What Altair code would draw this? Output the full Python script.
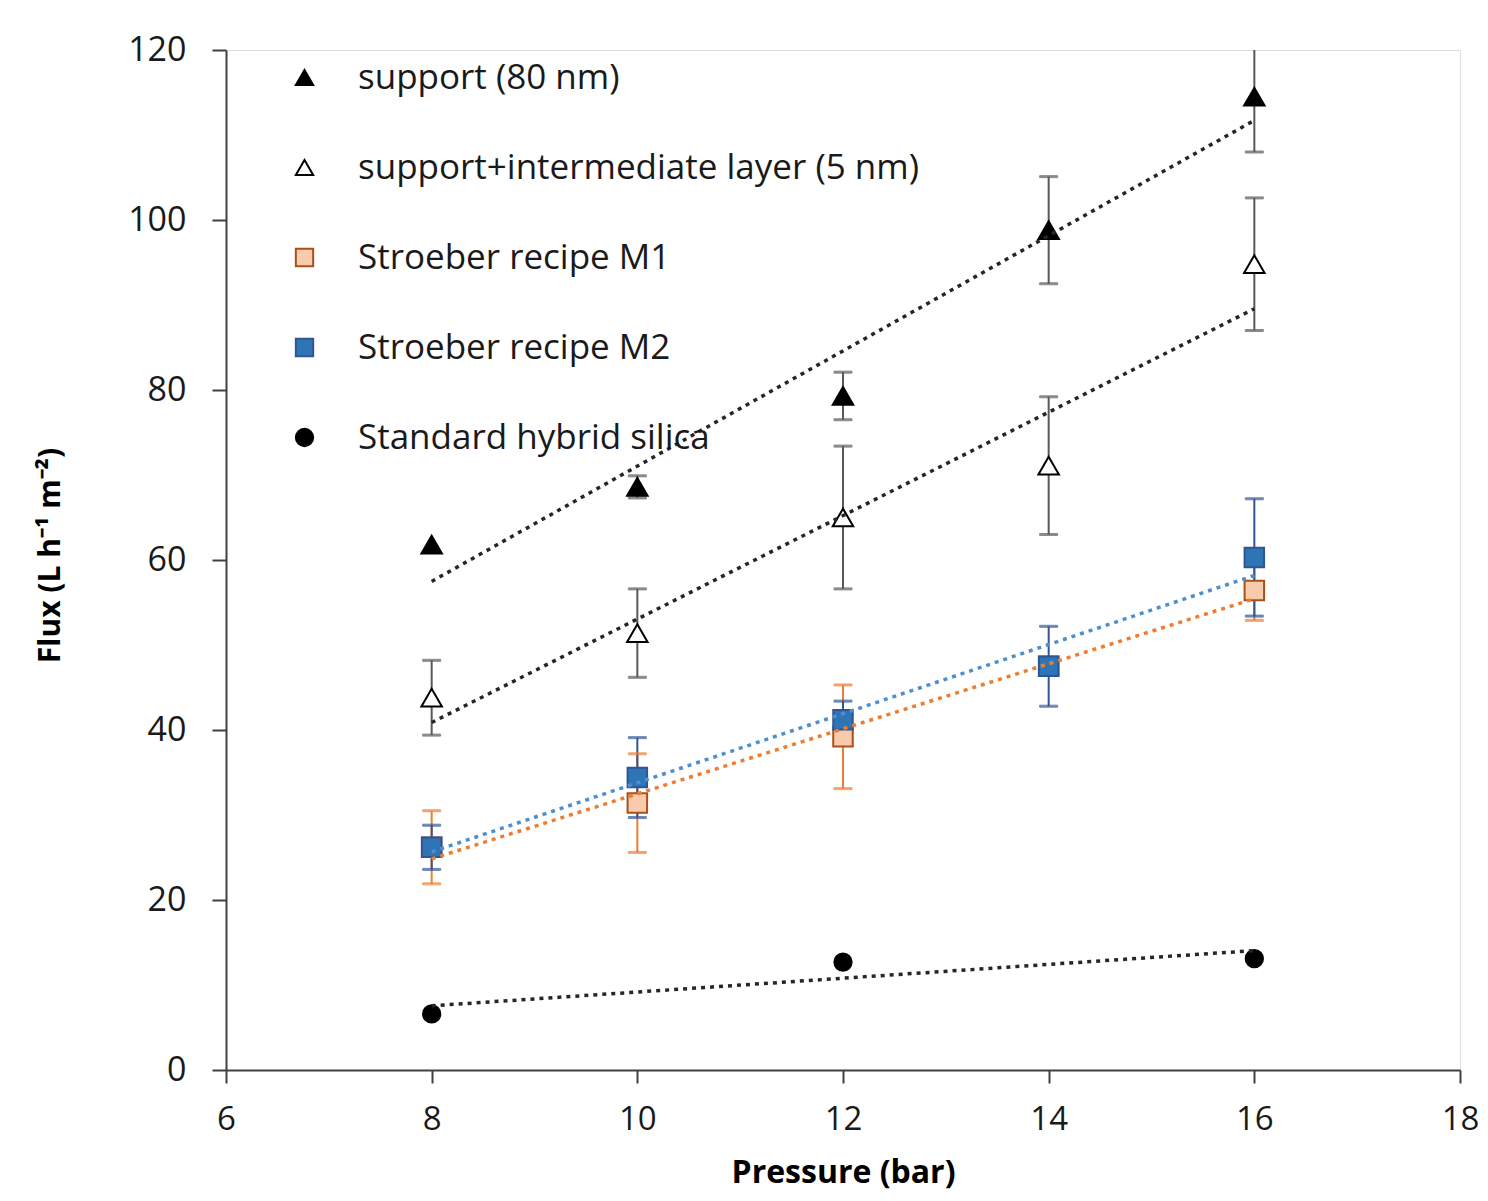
import altair as alt
import pandas as pd

# ---- data ----
series_names = [
    "support (80 nm)",
    "support+intermediate layer (5 nm)",
    "Stroeber recipe M1",
    "Stroeber recipe M2",
    "Standard hybrid silica",
]
pressure = [8, 10, 12, 14, 16]
support = [61.8, 68.6, 79.3, 98.8, 114.5]
support_err = [0.0, 1.3, 2.8, 6.3, 6.5]
inter = [43.8, 51.4, 65.0, 71.1, 94.8]
inter_err = [4.4, 5.2, 8.4, 8.1, 7.8]
m1 = [26.2, 31.4, 39.2, 47.5, 56.4]
m1_err = [4.3, 5.8, 6.1, 1.0, 3.5]
m2 = [26.2, 34.4, 41.2, 47.5, 60.3]
m2_err = [2.6, 4.7, 2.2, 4.7, 6.9]
std_pressure = [8, 12, 16]
std = [6.6, 12.7, 13.1]
std_err = [0.0, 0.0, 0.0]

shapes = ["triangle-up", "triangle-up", "square", "square", "circle"]
fills = ["#000000", "#ffffff", "#F8CBAD", "#2E75B6", "#000000"]
strokes = ["#000000", "#000000", "#A9501A", "#2F5597", "#000000"]
err_colors = ["#595959", "#595959", "#ED7D31", "#2F5597", "#595959"]
trend_colors = ["#262626", "#262626", "#ED7D31", "#4F8FD0", "#262626"]
sizes = [420, 420, 380, 380, 300]

xs = [pressure, pressure, pressure, pressure, std_pressure]
ys = [support, inter, m1, m2, std]
es = [support_err, inter_err, m1_err, m2_err, std_err]

rows = []
for i, name in enumerate(series_names):
    for x, y, e in zip(xs[i], ys[i], es[i]):
        rows.append(dict(series=name, p=x, v=y, err=e, ecol=err_colors[i],
                         tcol=trend_colors[i], msize=sizes[i], order=i))
df = pd.DataFrame(rows)

FONT = "Open Sans"

x_enc = alt.X("p:Q", scale=alt.Scale(domain=[6, 18], nice=False),
              axis=alt.Axis(values=[6, 8, 10, 12, 14, 16, 18], format="d",
                            title="Pressure (bar)", labelFlush=False,
                            grid=False, tickSize=13, tickWidth=2, domainWidth=2,
                            domainColor="#404040", tickColor="#404040",
                            labelFontSize=33, labelFont=FONT, labelColor="#1a1a1a",
                            labelPadding=20, titleFontSize=32, titleFont=FONT,
                            titleFontWeight="bold", titleColor="#000000",
                            titleBaseline="alphabetic", titleY=112))
y_scale = alt.Scale(domain=[0, 120], nice=False)
y_axis = alt.Axis(values=[0, 20, 40, 60, 80, 100, 120], format="d",
                  title="Flux (L h⁻¹ m⁻²)", labelFlush=False,
                  grid=False, tickSize=14, tickWidth=2, domainWidth=2,
                  domainColor="#404040", tickColor="#404040",
                  labelFontSize=34, labelFont=FONT, labelColor="#1a1a1a",
                  labelPadding=26, titleFontSize=30, titleFont=FONT,
                  titleFontWeight="bold", titleColor="#000000",
                  titleAngle=-90, titleBaseline="middle", titleX=-176, titleY=505)

base = alt.Chart(df)

err_base = base.transform_filter("datum.err > 0").transform_calculate(
    lo="datum.v - datum.err", hi="datum.v + datum.err")

err_rule = err_base.mark_rule(strokeWidth=2, clip=True).encode(
    x=x_enc,
    y=alt.Y("lo:Q", scale=y_scale, axis=y_axis),
    y2="hi:Q",
    stroke=alt.Stroke("ecol:N", scale=None),
)
cap_lo = err_base.mark_tick(orient="horizontal", size=18, thickness=2, clip=True).encode(
    x="p:Q", y=alt.Y("lo:Q"), stroke=alt.Stroke("ecol:N", scale=None),
    fill=alt.Fill("ecol:N", scale=None))
cap_hi = err_base.transform_filter("datum.hi <= 120").mark_tick(
    orient="horizontal", size=18, thickness=2, clip=True).encode(
    x="p:Q", y=alt.Y("hi:Q"), stroke=alt.Stroke("ecol:N", scale=None),
    fill=alt.Fill("ecol:N", scale=None))

legend = alt.Legend(orient="none", legendX=61, legendY=10, title=None,
                    labelFontSize=35, labelFont=FONT, labelColor="#1a1a1a",
                    labelLimit=1000, symbolOpacity=1,
                    symbolSize=300, symbolStrokeWidth=2, rowPadding=54,
                    labelOffset=36, padding=0, symbolOffset=0)

points = base.mark_point(filled=True, strokeWidth=2, opacity=1, fillOpacity=1).encode(
    x="p:Q",
    y=alt.Y("v:Q"),
    shape=alt.Shape("series:N", sort=series_names,
                    scale=alt.Scale(domain=series_names, range=shapes), legend=legend),
    color=alt.Color("series:N", sort=series_names,
                    scale=alt.Scale(domain=series_names, range=fills), legend=legend),
    stroke=alt.Stroke("series:N", sort=series_names,
                      scale=alt.Scale(domain=series_names, range=strokes), legend=legend),
    opacity=alt.value(1),
    size=alt.Size("msize:Q", scale=None),
    order=alt.Order("order:Q"),
)

trend = base.transform_regression("p", "v", groupby=["series", "tcol"],
                                  extent=[8, 16]).mark_line(
    strokeWidth=3.5, strokeDash=[4, 5]).encode(
    x="p:Q", y="v:Q", detail="series:N",
    stroke=alt.Stroke("tcol:N", scale=None))

chart = alt.layer(err_rule, cap_lo, cap_hi, points, trend).properties(
    width=1234, height=1020,
    padding={"left": 218, "top": 42, "right": 18, "bottom": 120},
    autosize=alt.AutoSizeParams(type="none"),
).configure_view(stroke="#404040", strokeWidth=2).configure(
    background="white").configure_legend(symbolOpacity=1)

chart.save("out.html", embed_options={"renderer": "svg", "actions": False})
